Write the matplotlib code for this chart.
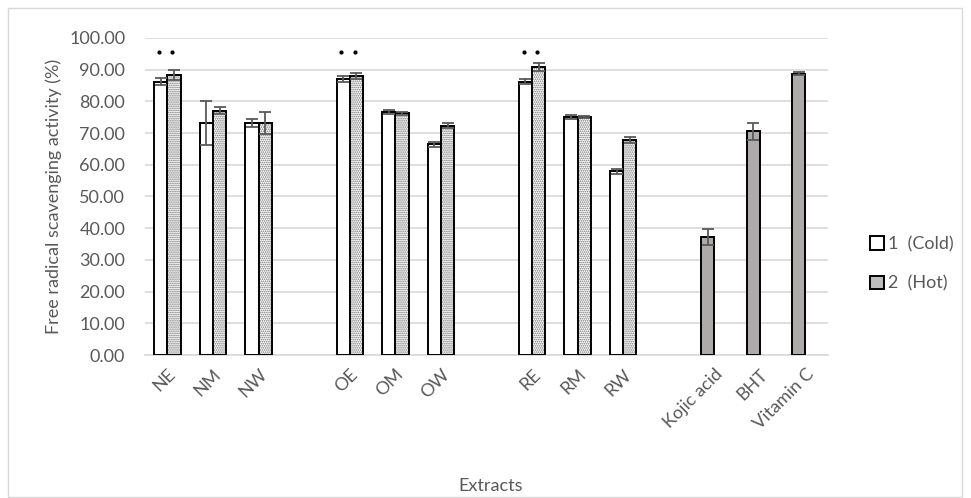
import numpy as np
import matplotlib.pyplot as plt
from matplotlib.patches import Patch, Rectangle

plt.rcParams['font.family'] = ['Lato', 'DejaVu Sans']

# extracts (cold / hot) and standards
extracts = ['NE', 'NM', 'NW', 'OE', 'OM', 'OW', 'RE', 'RM', 'RW']
extract_pos = [0, 1, 2, 4, 5, 6, 8, 9, 10]
cold = [86.2, 73.1, 73.1, 87.0, 76.6, 66.4, 86.2, 75.0, 57.9]
cold_err = [1.0, 7.0, 1.2, 0.9, 0.5, 0.7, 0.9, 0.6, 0.8]
hot = [88.4, 77.0, 73.1, 88.0, 76.2, 72.3, 90.8, 75.0, 67.8]
hot_err = [1.6, 1.1, 3.4, 1.0, 0.5, 0.7, 1.2, 0.4, 0.8]
signif = [True, False, False, True, False, False, True, False, False]

standards = ['Kojic acid', 'BHT', 'Vitamin C']
std_pos = [12, 13, 14]
std_vals = [37.2, 70.5, 88.7]
std_err = [2.5, 2.6, 0.4]

grey_txt = '#595959'
w = 0.29


def main():
    fig = plt.figure(figsize=(9.71, 4.98), dpi=100)
    ax = fig.add_axes([0.149, 0.287, 0.704, 0.637])

    xc = np.array(extract_pos) - w / 2
    xh = np.array(extract_pos) + w / 2
    xs = np.array(std_pos) - w / 2

    ax.bar(xc, cold, w, color='white', edgecolor='black', linewidth=1.4, zorder=3)
    # dotted fill for hot bars, then the border on top
    plt.rcParams['hatch.linewidth'] = 0.8
    ax.bar(xh, hot, w, color='white', edgecolor='#707070', hatch='........', linewidth=0, zorder=3)
    ax.bar(xh, hot, w, color='none', edgecolor='black', linewidth=1.4, zorder=4)
    ax.bar(xs, std_vals, w, color='#aeaaaa', edgecolor='black', linewidth=1.4, zorder=3)

    eb = dict(fmt='none', ecolor=grey_txt, elinewidth=1.3, capsize=4, capthick=1.3, zorder=5)
    ax.errorbar(xc, cold, yerr=cold_err, **eb)
    ax.errorbar(xh, hot, yerr=hot_err, **eb)
    ax.errorbar(xs, std_vals, yerr=std_err, **eb)

    for p, s in zip(extract_pos, signif):
        if s:
            ax.plot([p - w / 2 - 0.04, p + w / 2 - 0.04], [95.5, 95.5], 'o',
                    color='black', markersize=2, zorder=5)

    ax.set_xlim(-0.5, 14.5)
    ax.set_ylim(0, 100)
    ax.set_yticks(np.arange(0, 101, 10))
    ax.set_yticklabels([f'{v:.2f}' for v in np.arange(0, 101, 10)])
    ax.set_xticks(extract_pos + std_pos)
    ax.set_xticklabels(extracts + standards, rotation=45, ha='right',
                       rotation_mode='anchor')
    ax.tick_params(axis='both', length=0, colors=grey_txt, labelsize=13)
    ax.tick_params(axis='x', pad=8)
    ax.tick_params(axis='y', pad=14)
    ax.grid(axis='y', color='#d9d9d9', linewidth=1.2, zorder=0)
    for s in ['top', 'right', 'left']:
        ax.spines[s].set_visible(False)
    ax.spines['bottom'].set_color('#d9d9d9')
    ax.spines['bottom'].set_linewidth(1.2)

    ax.set_ylabel('Free radical scavenging activity (%)', color=grey_txt, fontsize=13, labelpad=5)
    fig.text(0.505, 0.024, 'Extracts', color=grey_txt, fontsize=13, ha='center', va='center')

    handles = [Patch(facecolor='white', edgecolor='black', linewidth=1.4),
               Patch(facecolor='#bdbdbd', edgecolor='black', linewidth=1.4)]
    fig.legend(handles, ['1  (Cold)', '2  (Hot)'], loc='center left',
               bbox_to_anchor=(0.879, 0.47), frameon=False, fontsize=13,
               handlelength=0.8, handleheight=0.8, handletextpad=0.2,
               labelspacing=1.3, labelcolor=grey_txt)

    fig.patches.append(Rectangle((0.008, 0.003), 0.983, 0.98, transform=fig.transFigure,
                                 fill=False, edgecolor='#d9d9d9', linewidth=1))
    fig.savefig('out.png', dpi=100)


if __name__ == "__main__":
    main()
